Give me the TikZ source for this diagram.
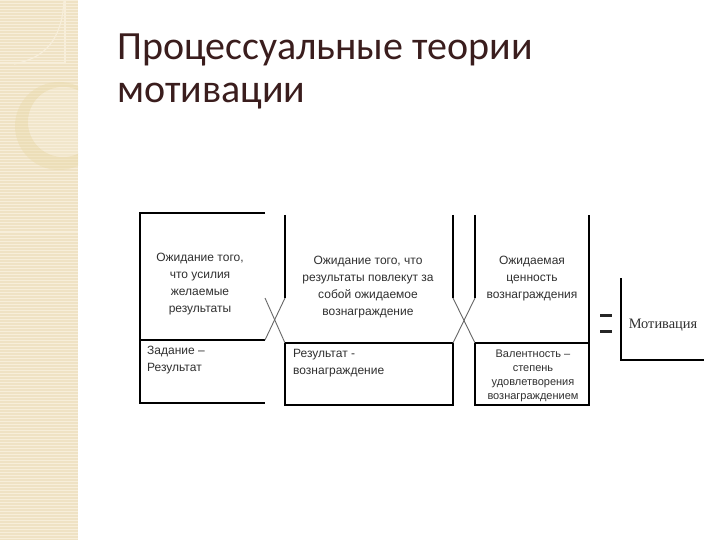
\documentclass[tikz,border=0pt]{standalone}
\usepackage{fontspec}
\setmainfont{Liberation Sans}
\newfontfamily\titlefont{Carlito}
\newfontfamily\serifru{Liberation Serif}
\definecolor{stripbg}{HTML}{EFE2C4}
\definecolor{stripln}{HTML}{F7EEDA}
\definecolor{ringc}{HTML}{E9D9A6}
\definecolor{titlec}{HTML}{3A1D1D}
\definecolor{txtc}{HTML}{303030}
\begin{document}
\begin{tikzpicture}[x=1pt,y=-1pt,
  boxline/.style={line width=1.1pt,black},
  xline/.style={line width=0.9pt,gray!80!black},
  btext/.style={text=txtc,inner sep=0pt,font=\fontsize{12}{17}\selectfont},
  stext/.style={text=txtc,inner sep=0pt,font=\fontsize{11}{14}\selectfont}]
\useasboundingbox (0,0) rectangle (720,540);
\fill[white] (0,0) rectangle (720,540);
% decorative strip
\fill[stripbg] (0,0) rectangle (78,540);
\foreach \i in {1,4,...,540} \draw[stripln,line width=1pt] (0,\i) -- (78,\i);
\begin{scope}
\clip (0,0) rectangle (78,540);
\fill[ringc,opacity=0.4,even odd rule] (59,126) circle[radius=44] (63,122) circle[radius=35];
\fill[stripln,opacity=0.35] (63,122) circle[radius=35];
\draw[stripln,line width=1.2pt] (0,63) -- (65,63) -- (65,0);
\draw[stripln,line width=1.2pt] (64,0) .. controls (62,40) and (45,58) .. (14,64);
\end{scope}
% title
\node[anchor=base west,inner sep=0pt,text=titlec,align=left,
  font=\titlefont\fontsize{40}{43}\selectfont] (title) at (117,103)
  {Процессуальные теории\\мотивации};
% coordinates
\coordinate (b1tl) at (140,213);  \coordinate (b1tr) at (265,213);
\coordinate (b1ml) at (140,340);  \coordinate (b1mr) at (265,340);
\coordinate (b1bl) at (140,403);  \coordinate (b1br) at (265,403);
\coordinate (xa1) at (265,298);
\coordinate (b2lt) at (285,215);  \coordinate (b2lx) at (285,298);
\coordinate (b2ml) at (285,343);  \coordinate (b2bl) at (285,405);
\coordinate (b2rt) at (453,215);  \coordinate (b2rx) at (453,298);
\coordinate (b2mr) at (453,343);  \coordinate (b2br) at (453,405);
\coordinate (b3lt) at (475,215);  \coordinate (b3lx) at (475,298);
\coordinate (b3ml) at (475,343);  \coordinate (b3bl) at (475,405);
\coordinate (b3rt) at (589,215);  \coordinate (b3mr) at (589,343);
\coordinate (b3br) at (589,405);
\coordinate (mt) at (621,278);  \coordinate (mc) at (621,360);  \coordinate (mr) at (704,360);
% box 1
\draw[boxline] (b1tr) -- (b1tl) -- (b1bl) -- (b1br);
\draw[boxline] (b1ml) -- (b1mr);
% X 1
\draw[xline] (xa1) -- (b2ml);
\draw[xline] (b2lx) -- (b1mr);
% box 2
\draw[boxline] (b2lt) -- (b2lx);
\draw[boxline] (b2ml) -- (b2bl) -- (b2br) -- (b2mr);
\draw[boxline] (b2ml) -- (b2mr);
\draw[boxline] (b2rt) -- (b2rx);
% X 2
\draw[xline] (b2rx) -- (b3ml);
\draw[xline] (b3lx) -- (b2mr);
% box 3
\draw[boxline] (b3lt) -- (b3lx);
\draw[boxline] (b3ml) -- (b3bl) -- (b3br) -- (b3rt);
\draw[boxline] (b3ml) -- (b3mr);
% equals
\fill[black!85] (600,314) rectangle (612,316.8);
\fill[black!85] (600,329.5) rectangle (612,332.5);
% motivation L
\draw[boxline] (mt) -- (mc) -- (mr);
% texts
\node[btext,align=center] (t1) at (200,284) {Ожидание того,\\что усилия\\желаемые\\результаты};
\node[btext,align=left,anchor=north west] (t1b) at (147,346) {Задание –\\Результат};
\node[btext,align=center] (t2) at (368,287) {Ожидание того, что\\результаты повлекут за\\собой ожидаемое\\вознаграждение};
\node[btext,align=left,anchor=north west] (t2b) at (293,349) {Результат -\\вознаграждение};
\node[btext,align=center] (t3) at (532,279) {Ожидаемая\\ценность\\вознаграждения};
\node[stext,align=center] (t3b) at (533,376) {Валентность –\\степень\\удовлетворения\\вознаграждением};
\node[text=txtc,inner sep=0pt,font=\serifru\fontsize{14.4}{16}\selectfont] (mot) at (663,325) {Мотивация};
\end{tikzpicture}
\end{document}
